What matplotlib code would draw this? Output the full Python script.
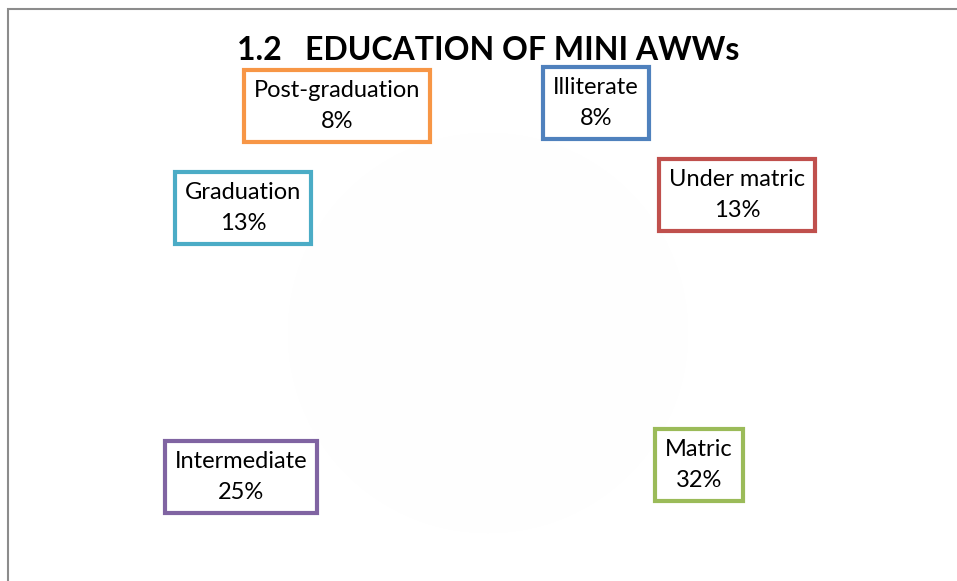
import matplotlib
matplotlib.use("Agg")
import matplotlib.pyplot as plt
from matplotlib.patches import Rectangle

# education levels of mini AWWs (percent)
categories = ["Illiterate", "Under matric", "Matric", "Intermediate",
              "Graduation", "Post-graduation"]
shares = [8, 13, 32, 25, 13, 8]
edge_colors = ["#4F81BD", "#C0504D", "#9BBB59", "#8064A2", "#4BACC6", "#F79646"]

# label box centres in pixels (x from left, y from top)
label_pos = [(596, 103), (737, 195), (699, 465), (241, 477), (243, 208), (337, 106)]

W, H = 957, 581
fig = plt.figure(figsize=(W / 100, H / 100), dpi=100)
plt.rcParams["font.family"] = ["Lato", "DejaVu Sans"]

# chart frame (right and bottom edges fall outside the picture)
fig.patches.append(Rectangle((8 / W, -0.1), 1.2, (H - 9) / H + 0.1,
                             transform=fig.transFigure, fill=False,
                             edgecolor="#8c8c8c", linewidth=1.5))

ax = fig.add_axes([288 / W, 48 / H, 400 / W, 400 / H])
ax.pie(shares, startangle=90, counterclock=False,
       colors=["#fefefe"] * len(shares),
       wedgeprops=dict(linewidth=0))
ax.set_xlim(-1, 1)
ax.set_ylim(-1, 1)
ax.set_aspect("equal")

for cat, val, col, (px, py) in zip(categories, shares, edge_colors, label_pos):
    fig.text(px / W, 1 - py / H, f"{cat}\n{val}%", ha="center", va="center",
             fontsize=17, linespacing=1.55, color="black",
             bbox=dict(boxstyle="square,pad=0.42", facecolor="white",
                       edgecolor=col, linewidth=3))

fig.text(488 / W, 1 - 50 / H, "1.2   EDUCATION OF MINI AWWs", ha="center",
         va="center", fontsize=23, fontweight="bold")

fig.savefig("out.png", dpi=100)
